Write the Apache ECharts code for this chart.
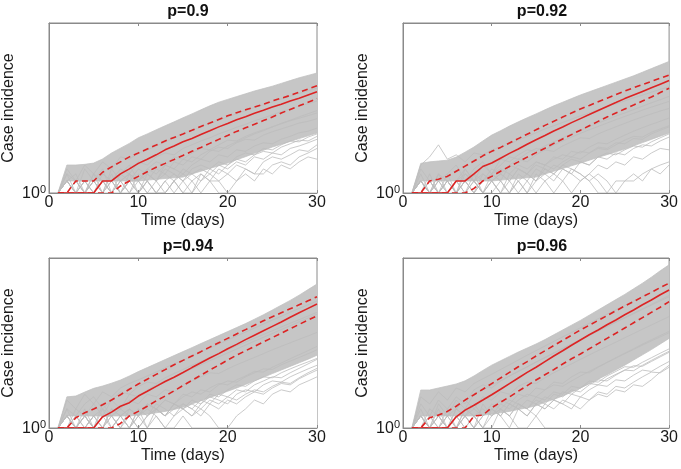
<!DOCTYPE html>
<html>
<head>
<meta charset="utf-8">
<script src="https://cdn.jsdelivr.net/npm/echarts@6/dist/echarts.min.js"></script>
<style>
html, body { margin: 0; padding: 0; background: #fff; }
#chart { width: 681px; height: 469px; }
</style>
</head>
<body>
<div id="chart"></div>
<script>
// days 0..30 (nothing plotted at day 0 on the log axis)
var days = [0,1,2,3,4,5,6,7,8,9,10,11,12,13,14,15,16,17,18,19,20,21,22,23,24,25,26,27,28,29,30];

// p=0.9
var p1Median   = [null,1,1,1,1,1,2,2,3,4,5.5,7,9,12,15,19,23,29,36,45,55,68,81,98,117,141,166,200,234,282,339];
var p1Upper    = [null,1,1,2,2,2,3.3,4.5,6,8,10,12.6,15.8,20,24.5,30,37,46,56,69,85,102,120,141,166,200,234,275,331,398,479];
var p1Lower    = [null,1,1,1,1,1,1,1,1.5,2,2.6,3.4,4.4,5.5,6.9,8.7,11,13.8,17.4,21.9,27.5,34.7,42.7,52.5,64.6,79.4,100,123,151,186,229];
var p1BandHigh = [null,1,5,5,5.2,5.6,7.1,10,13.2,17.4,24,30,38,48,60,76,95,120,151,186,219,257,302,355,407,468,550,646,759,871,1000];
var p1BandLow  = [null,1,2,2,2,2,2,2,2,2,2,2.1,2.2,2.3,2.4,2.5,3,3.5,4.1,4.8,5.6,6.8,8.1,9.8,11.7,14.1,16.6,19.5,22.9,26.9,31.6];
var p1Runs = [
  [null,1,3,1,2,1,3,2,4,3,6,5,8,10,9,13,16,20,24,30,36,44,52,64,75,90,108,126,150,170,200],
  [null,1,2,1,4,2,1,3,1,2,4,3,2,5,4,7,6,9,12,11,15,19,24,30,36,45,55,66,80,96,115],
  [null,1,4,2,5,3,6,4,8,7,10,12,15,19,24,30,37,45,55,66,80,96,115,138,160,190,225,265,310,360,420],
  [null,1,1,2,1,1,2,1,1,2,1,3,2,1,2,1,2,3,2,1,1,1,1,1,1,1,1,1,1,1,1],
  [null,1,2,1,1,3,1,2,1,1,2,1,2,3,2,4,3,2,4,6,5,8,10,9,13,12,16,20,19,25,30],
  [null,1,1,1,2,1,2,2,1,3,2,4,3,5,4,3,5,7,6,9,8,12,11,15,18,17,22,26,32,35,42],
  [null,1,3,2,1,2,1,4,2,3,1,2,4,3,6,5,8,7,11,14,13,18,22,21,28,34,40,47,56,62,72],
  [null,1,2,3,1,2,4,1,3,5,2,4,6,5,8,7,10,13,12,16,21,20,26,32,38,45,54,64,74,86,100],
  [null,1,2,1,1,2,1,1,2,1,1,2,1,1,2,1,1,2,3,2,1,2,3,2,4,3,5,4,6,8,7],
  [null,1,1,2,1,3,2,1,2,1,3,2,1,2,3,2,3,4,3,5,4,6,5,8,7,10,9,13,15,18,22],
  [null,1,2,1,2,1,1,2,3,2,1,2,1,1,2,3,2,1,2,2,3,2,4,3,3,5,6,5,8,10,13],
  [null,1,1,2,1,2,3,2,1,2,2,3,2,4,3,2,4,5,4,3,5,7,6,9,11,10,14,17,21,20,26],
  [null,1,2,1,1,1,2,1,2,3,2,1,1,2,1,2,1,3,2,4,3,5,4,3,6,8,7,9,12,11,16]
];

// p=0.92
var p2Median   = [null,1,1,1,1,1,2,2,3,4.6,5.6,7.4,9.8,12.6,16.6,21.4,27.5,35.5,44.7,57.5,72.4,91.2,115,145,182,229,282,347,427,525,646];
var p2Upper    = [null,1,1,2,2.2,2.6,3.5,4.7,6.3,8.5,11,13.8,17.8,22.9,29.5,38,49,62,79,100,126,155,191,234,288,355,427,513,617,741,891];
var p2Lower    = [null,1,1,1,1,1,1,1,1.3,2,2.6,3.5,4.6,6,7.9,10.2,13.2,17.4,22.4,28.8,37.2,47.9,61.7,79.4,100,126,158,200,251,324,417];
var p2BandHigh = [null,1,5.5,6,6.3,6.6,7.9,10.5,14.1,20,28,36,47,60,76,95,120,151,186,229,282,339,407,490,589,708,851,1047,1288,1585,1950];
var p2BandLow  = [null,1,2,2,2,2,2,2,2,2,2,2.1,2.2,2.3,2.4,2.5,3,3.5,4.1,4.8,5.6,6.6,7.8,9.1,10.7,12.6,15.1,18.2,21.9,26.3,31.6];
var p2Runs = [
  [null,1,2,1,3,1,2,4,2,5,3,7,6,9,12,11,15,19,24,30,37,46,56,68,84,100,122,148,180,215,260],
  [null,1,3,1,2,1,1,2,1,3,2,1,2,4,3,2,5,4,6,8,7,10,13,12,16,21,26,25,33,40,48],
  [null,1,5,8,16,7,9,6,10,9,12,14,17,21,26,32,40,48,58,70,85,100,120,145,170,200,240,280,330,390,450],
  [null,1,1,2,1,1,2,1,3,1,2,1,1,3,2,1,2,3,2,4,3,2,3,2,1,1,1,1,1,1,1],
  [null,1,2,1,2,3,1,4,2,1,3,2,5,4,3,6,5,8,7,11,10,14,18,17,22,28,35,43,52,62,75],
  [null,1,1,3,1,2,1,2,3,2,4,3,5,7,6,9,12,11,15,19,24,23,30,37,45,55,67,80,95,112,130],
  [null,1,2,1,1,2,1,1,2,1,2,3,2,1,2,4,3,5,4,3,6,5,8,7,10,9,13,16,15,20,25],
  [null,1,4,2,1,3,5,2,4,6,3,5,8,7,10,13,12,16,20,25,31,38,46,56,68,82,98,118,140,165,195],
  [null,1,2,1,1,2,1,2,1,2,3,2,1,2,3,2,4,3,5,4,3,2,1,1,1,2,2,3,4,5,6],
  [null,1,1,2,1,2,1,3,2,1,2,1,3,2,1,2,3,2,4,3,2,3,5,4,6,5,8,7,10,13,12],
  [null,1,2,1,3,2,1,2,1,2,3,4,3,5,4,6,5,7,9,8,11,10,14,13,18,17,23,22,30,37,45],
  [null,1,1,2,1,1,2,1,2,1,1,2,1,2,1,3,2,1,2,1,2,3,2,1,2,2,3,2,4,3,5],
  [null,1,2,1,2,1,2,3,2,3,2,3,2,4,3,5,4,3,5,7,6,5,8,10,9,12,15,14,19,24,30]
];

// p=0.94
var p3Median   = [null,1,1,1,1,1,1.9,2.5,3.5,4.3,6.3,8.3,11,14.5,18.6,24.5,32.4,42.7,56.2,72.4,95.5,123,162,209,269,347,447,589,759,977,1259];
var p3Upper    = [null,1,1,1.8,2.4,3,3.8,5,6.8,9.3,12.6,16.6,21.9,28.8,38,49,63,81,105,135,174,224,288,372,479,603,759,955,1202,1514,1905];
var p3Lower    = [null,1,1,1,1,1,1,1,1.3,2,2.6,3.5,4.8,6.3,8.5,11.5,15.5,20.9,28.2,37.2,50.1,66.1,85.1,110,141,182,234,302,389,501,631];
var p3BandHigh = [null,1,6,6.3,7.9,9.8,11.2,13.2,15.8,20,25.7,32.4,40.7,51.3,64.6,81.3,102,129,162,204,257,324,407,525,676,891,1175,1549,2089,2884,3981];
var p3BandLow  = [null,1,2,2,2,2,2,2,2,2,2.1,2.2,2.4,2.6,2.9,3.3,4,4.8,5.8,6.9,8.3,10,12.3,15.1,18.6,22.9,28.2,34.7,42.7,52.5,66];
var p3Runs = [
  [null,1,3,1,2,4,2,5,3,7,6,9,12,15,19,24,30,38,48,60,75,94,118,148,185,230,290,360,450,560,700],
  [null,1,2,1,1,2,1,3,2,1,2,4,3,5,4,7,6,9,8,12,15,14,19,24,30,29,38,47,58,72,90],
  [null,1,5,3,7,4,8,6,10,13,16,20,25,32,40,50,63,80,100,125,158,200,250,315,395,500,620,780,980,1200,1500],
  [null,1,1,2,1,2,1,1,2,1,3,1,2,1,1,2,1,1,1,1,1,1,1,1,1,1,1,1,1,1,1],
  [null,1,2,1,3,1,2,2,1,3,2,1,3,2,4,3,5,4,7,6,9,12,11,15,19,18,24,30,37,45,55],
  [null,1,1,3,2,1,4,2,3,5,4,7,6,9,8,12,15,19,24,23,30,38,47,58,72,90,110,135,165,200,245],
  [null,1,2,1,2,1,3,1,2,3,2,4,3,2,4,3,2,4,6,5,4,7,9,8,12,15,14,19,24,30,37],
  [null,1,3,2,4,6,3,5,8,7,11,14,13,18,23,29,37,46,58,72,90,112,140,175,218,270,335,415,510,630,780],
  [null,1,2,1,2,1,1,2,3,2,1,2,3,2,4,3,2,3,2,1,1,2,3,5,4,7,9,8,12,15,19],
  [null,1,1,2,1,2,1,3,2,1,3,2,4,3,2,4,3,5,4,7,6,9,8,12,15,19,18,24,31,40,52],
  [null,1,2,1,1,2,3,2,1,2,1,2,3,2,3,4,3,2,4,3,5,4,6,8,7,10,13,12,17,22,28],
  [null,1,1,1,2,1,2,1,2,3,2,4,3,5,4,6,8,7,10,13,12,16,20,26,25,33,42,54,68,86,110],
  [null,1,2,1,2,1,1,2,1,1,2,3,2,1,2,3,4,3,5,4,6,5,7,9,8,11,14,13,18,24,31]
];

// p=0.96
var p4Median   = [null,1,1,1,1,1,1.9,2.8,3.7,5,6.8,9.3,12.9,17.8,24.5,33.1,45.7,63.1,85.1,117,158,214,282,380,501,676,891,1202,1585,2138,2818];
var p4Upper    = [null,1,1,1.8,2.1,2.6,3.5,5,6.8,9.3,12.9,17.8,24.5,33.9,45.7,63.1,85.1,115,155,209,282,372,490,646,851,1122,1445,1905,2455,3236,4169];
var p4Lower    = [null,1,1,1,1,1,1,1,2,2.1,3.2,4.4,6,8.3,11.5,15.8,21.4,28.8,39.8,53.7,70.8,95.5,129,174,234,316,427,575,776,1047,1445];
var p4BandHigh = [null,1,8.9,8.9,10,11.2,12.6,15.1,20,27.5,37.2,47.9,61.7,79.4,100,126,162,214,282,372,490,661,891,1202,1622,2188,3020,4169,5888,8511,12023];
var p4BandLow  = [null,1,2,2,2,2,2,2,2,2.1,2.2,2.4,2.6,2.9,3.2,3.6,4.4,5.2,6.3,7.9,10,12.9,16.6,21.4,28.2,37.2,50.1,67.6,91.2,126,174];
var p4Runs = [
  [null,1,3,1,4,2,5,3,7,9,12,15,20,26,34,44,57,74,96,124,160,205,265,340,440,560,720,920,1180,1500,1900],
  [null,1,2,1,1,3,1,2,4,2,3,5,4,7,6,10,9,14,13,19,25,24,33,43,56,72,92,118,150,190,240],
  [null,1,6,4,8,5,10,8,13,17,22,29,38,50,66,86,112,146,190,245,320,415,540,700,900,1160,1500,1950,2500,3200,4100],
  [null,1,1,2,1,1,2,1,2,1,1,3,2,1,1,2,1,1,1,1,1,1,1,1,1,1,1,1,1,1,1],
  [null,1,2,1,2,1,3,2,1,4,2,3,5,4,3,6,5,8,7,11,10,15,14,20,26,34,33,44,57,74,95],
  [null,1,1,3,2,1,3,5,3,6,5,8,7,11,14,13,18,24,31,40,52,67,86,110,140,180,230,295,375,480,610],
  [null,1,2,1,3,1,1,2,1,2,3,2,4,3,2,4,3,5,4,7,6,9,12,11,16,15,21,28,26,35,46],
  [null,1,4,2,5,3,6,4,9,12,10,15,20,26,34,45,58,76,98,126,162,210,270,350,450,580,745,960,1240,1600,2050],
  [null,1,2,1,1,2,1,3,2,1,2,3,2,4,3,2,4,3,5,4,3,5,7,6,9,8,12,11,16,25,37],
  [null,1,1,2,1,2,1,3,2,1,3,2,4,3,5,4,6,5,8,7,10,13,12,17,22,28,36,35,46,60,78],
  [null,1,2,1,1,2,3,2,1,2,3,2,1,3,2,4,3,5,4,3,6,5,8,7,11,10,14,19,25,24,33],
  [null,1,1,1,2,1,2,1,2,3,2,4,3,5,7,6,9,12,11,15,20,26,34,44,57,74,96,125,160,205,260],
  [null,1,2,1,2,1,1,2,3,2,4,3,2,4,3,5,4,7,6,9,8,12,16,15,21,28,27,37,49,64,83]
];

var yTop = 17783; // top of the log axis (~10^4.25)
var font = 'Liberation Sans, Arial, Helvetica, sans-serif';
var ink = '#1a1a1a';
var frame = '#8a8a8a';

var panels = [
  { title: 'p=0.9',  median: p1Median, upper: p1Upper, lower: p1Lower, high: p1BandHigh, low: p1BandLow, runs: p1Runs, left: 49,  top: 23 },
  { title: 'p=0.92', median: p2Median, upper: p2Upper, lower: p2Lower, high: p2BandHigh, low: p2BandLow, runs: p2Runs, left: 403, top: 23 },
  { title: 'p=0.94', median: p3Median, upper: p3Upper, lower: p3Lower, high: p3BandHigh, low: p3BandLow, runs: p3Runs, left: 49,  top: 258 },
  { title: 'p=0.96', median: p4Median, upper: p4Upper, lower: p4Lower, high: p4BandHigh, low: p4BandLow, runs: p4Runs, left: 403, top: 258 }
];

function pairs(arr) {
  return days.map(function (d, i) { return [d, arr[i]]; });
}

var grids = [], xAxes = [], yAxes = [], titles = [], series = [];

panels.forEach(function (p, k) {
  grids.push({ left: p.left, top: p.top, width: 268, height: 170, show: true, borderColor: frame, borderWidth: 1 });

  titles.push({
    text: p.title, left: p.left + 134, top: p.top - 24, textAlign: 'center',
    textStyle: { fontFamily: font, fontSize: 16, fontWeight: 'bold', color: '#111' }
  });

  // bottom x axis with labels
  xAxes.push({
    gridIndex: k, type: 'value', position: 'bottom', min: 0, max: 30, interval: 10, z: 10,
    axisLine: { show: true, lineStyle: { color: frame } },
    axisTick: { show: true, inside: true, length: 3, lineStyle: { color: frame } },
    axisLabel: { color: ink, fontSize: 16, fontFamily: font, margin: 2 },
    splitLine: { show: false },
    name: 'Time (days)', nameLocation: 'middle', nameGap: 20,
    nameTextStyle: { color: ink, fontSize: 16, fontFamily: font }
  });
  // top x axis, ticks only
  xAxes.push({
    gridIndex: k, type: 'value', position: 'top', min: 0, max: 30, interval: 10, z: 10,
    axisLine: { show: true, lineStyle: { color: frame } },
    axisTick: { show: true, inside: true, length: 3, lineStyle: { color: frame } },
    axisLabel: { show: false }, splitLine: { show: false }
  });

  yAxes.push({
    gridIndex: k, type: 'log', logBase: 10, min: 1, max: yTop, z: 10,
    axisLine: { show: true, lineStyle: { color: frame } },
    axisTick: { show: false }, minorTick: { show: false },
    splitLine: { show: false },
    axisLabel: {
      margin: 3,
      formatter: function (v) { return v === 1 ? '{b|10}{s|0}' : ''; },
      rich: {
        b: { fontSize: 16, fontFamily: font, color: ink, lineHeight: 18, verticalAlign: 'bottom' },
        s: { fontSize: 11, fontFamily: font, color: ink, lineHeight: 18, verticalAlign: 'top' }
      }
    },
    name: 'Case incidence', nameLocation: 'middle', nameGap: 32, nameRotate: 90,
    nameTextStyle: { color: ink, fontSize: 16, fontFamily: font }
  });

  var xi = k * 2;

  // dense cloud of runs: grey down from the high envelope, white up to the low one
  series.push({
    type: 'line', xAxisIndex: xi, yAxisIndex: k, silent: true, symbol: 'none',
    data: pairs(p.high), lineStyle: { color: '#c2c2c2', width: 0.8 },
    areaStyle: { color: '#c6c6c6', opacity: 1, origin: 'start' }, z: 1
  });
  series.push({
    type: 'line', xAxisIndex: xi, yAxisIndex: k, silent: true, symbol: 'none',
    data: pairs(p.low), lineStyle: { color: '#c2c2c2', width: 0.8 },
    areaStyle: { color: '#ffffff', opacity: 1, origin: 'start' }, z: 1
  });

  // individual runs
  p.runs.forEach(function (run) {
    series.push({
      type: 'line', xAxisIndex: xi, yAxisIndex: k, silent: true, symbol: 'none',
      data: pairs(run), lineStyle: { color: '#bdbdbd', width: 0.8 }, z: 2
    });
  });

  // median and percentile bounds
  series.push({
    type: 'line', xAxisIndex: xi, yAxisIndex: k, symbol: 'none', data: pairs(p.median),
    lineStyle: { color: '#dd2424', width: 1.6 }, z: 5
  });
  [p.upper, p.lower].forEach(function (arr) {
    series.push({
      type: 'line', xAxisIndex: xi, yAxisIndex: k, symbol: 'none', data: pairs(arr),
      lineStyle: { color: '#dd2424', width: 1.6, type: [6, 4] }, z: 5
    });
  });
});

var myChart = echarts.init(document.getElementById('chart'));
myChart.setOption({
  animation: false,
  backgroundColor: '#fff',
  title: titles,
  grid: grids,
  xAxis: xAxes,
  yAxis: yAxes,
  series: series
});
</script>
</body>
</html>
